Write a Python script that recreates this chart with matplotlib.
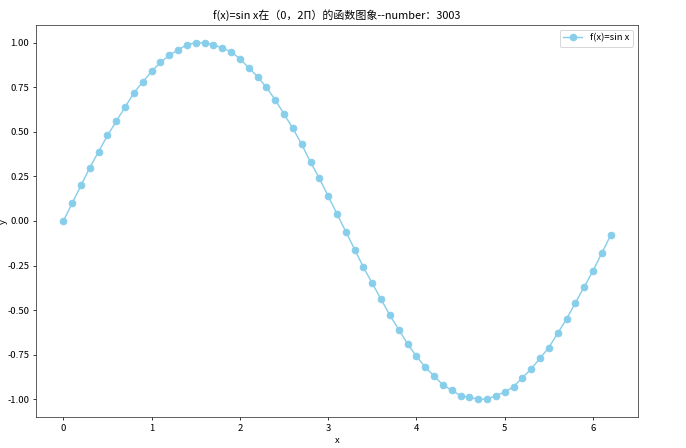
import matplotlib
matplotlib.use("Agg")
import matplotlib.pyplot as plt

plt.rcParams['font.family'] = ['Noto Sans CJK SC', 'DejaVu Sans']
plt.rcParams['axes.unicode_minus'] = False

x_values = [0.0, 0.1, 0.2, 0.3, 0.4, 0.5, 0.6, 0.7, 0.8, 0.9,
            1.0, 1.1, 1.2, 1.3, 1.4, 1.5, 1.6, 1.7, 1.8, 1.9,
            2.0, 2.1, 2.2, 2.3, 2.4, 2.5, 2.6, 2.7, 2.8, 2.9,
            3.0, 3.1, 3.2, 3.3, 3.4, 3.5, 3.6, 3.7, 3.8, 3.9,
            4.0, 4.1, 4.2, 4.3, 4.4, 4.5, 4.6, 4.7, 4.8, 4.9,
            5.0, 5.1, 5.2, 5.3, 5.4, 5.5, 5.6, 5.7, 5.8, 5.9,
            6.0, 6.1, 6.2]
y_values = [0.00, 0.10, 0.20, 0.30, 0.39, 0.48, 0.56, 0.64, 0.72, 0.78,
            0.84, 0.89, 0.93, 0.96, 0.99, 1.00, 1.00, 0.99, 0.97, 0.95,
            0.91, 0.86, 0.81, 0.75, 0.68, 0.60, 0.52, 0.43, 0.33, 0.24,
            0.14, 0.04, -0.06, -0.16, -0.26, -0.35, -0.44, -0.53, -0.61, -0.69,
            -0.76, -0.82, -0.87, -0.92, -0.95, -0.98, -0.99, -1.00, -1.00, -0.98,
            -0.96, -0.93, -0.88, -0.83, -0.77, -0.71, -0.63, -0.55, -0.46, -0.37,
            -0.28, -0.18, -0.08]

series_label = 'f(x)=sin x'
title_text = 'f(x)=sin x在（0，2Π）的函数图象--number：3003'

DPI = 68.6
W, H = 686, 448
fig = plt.figure(figsize=(W / DPI, H / DPI), dpi=DPI)
ax = fig.add_axes([36/W, 1-417/H, (638-36)/W, (417-25)/H])
ax.plot(x_values, y_values, color='skyblue', marker='o', markersize=7,
        linewidth=1.5, label=series_label)
ax.set_title(title_text, fontsize=11.5)
ax.set_xlabel('x', fontsize=10)
ax.set_ylabel('y', fontsize=10)
ax.yaxis.set_label_coords(-0.046, 0.5)
ax.tick_params(labelsize=10)
for s in ax.spines.values():
    s.set_color('#333333')
ax.legend(loc='upper right', fontsize=10)
fig.savefig('out.png', dpi=DPI)
